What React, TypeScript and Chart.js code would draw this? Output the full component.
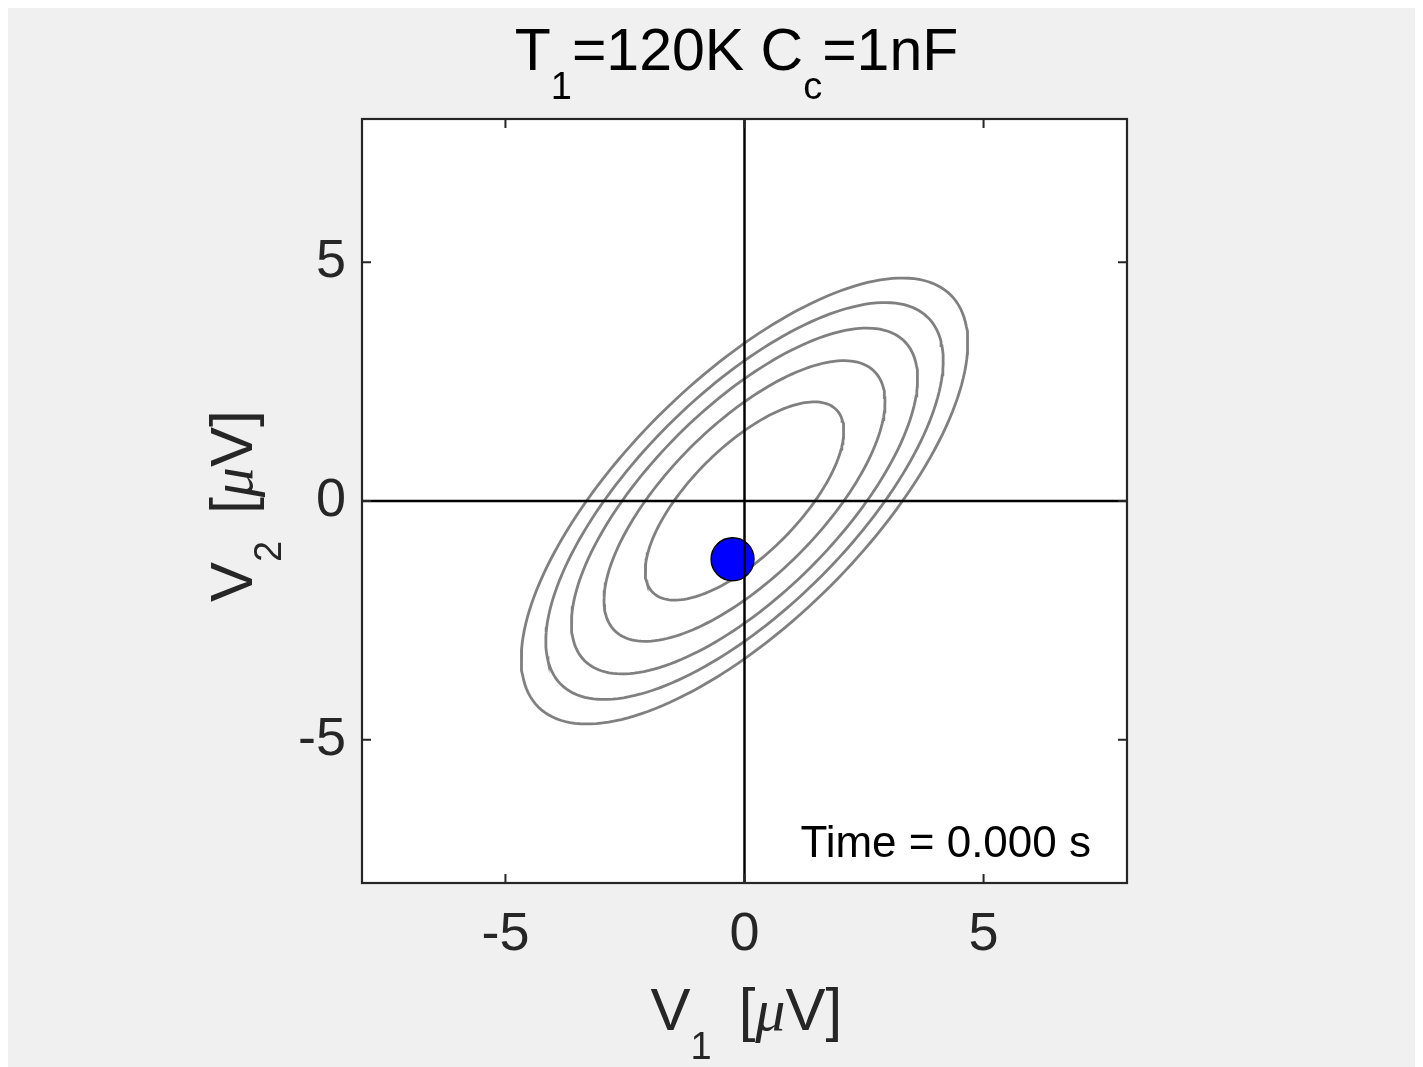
import { useEffect, useRef } from "react";
import { Chart, registerables } from "chart.js";

Chart.register(...registerables);

// Axis limits and tick positions (μV)
const xRange = [-8, 8];
const yRange = [-8, 8];
const xTickValues = [-5, 0, 5];
const yTickValues = [-5, 0, 5];

// Equal-probability contours of the (V1, V2) distribution: semi-axes in μV
const contourSemiMajor = [2.71, 3.84, 4.73, 5.43, 6.1];
const contourSemiMinor = [1.13, 1.59, 1.96, 2.25, 2.53];
const contourTiltDeg = 45;

// Instantaneous state of the two coupled resistors
const stateV1 = [-0.25];
const stateV2 = [-1.22];
const timeSeconds = 0.0;

// Title parameters
const titleT1 = "120K";
const titleCc = "1nF";

const SANS = "'Liberation Sans', Arial, Helvetica, sans-serif";
const SERIF = "'Liberation Serif', 'Times New Roman', serif";
const MAIN_SIZE = 60;
const SUB_SIZE = 38;
const SUB_DROP = 29;
const TEXT_COLOR = "#262626";

type Part = { text?: string; sub?: boolean; italic?: boolean; gap?: number };

// Outline of one contour ellipse traced from its semi-axes and tilt
function ellipseOutline(a: number, b: number, tiltDeg: number) {
  const th = (tiltDeg * Math.PI) / 180;
  const pts: { x: number; y: number }[] = [];
  for (let k = 0; k <= 360; k += 2) {
    const t = (k * Math.PI) / 180;
    const u = a * Math.cos(t);
    const v = b * Math.sin(t);
    pts.push({ x: u * Math.cos(th) - v * Math.sin(th), y: u * Math.sin(th) + v * Math.cos(th) });
  }
  return pts;
}

function partFont(p: Part, mainSize: number) {
  const size = p.sub ? SUB_SIZE : mainSize;
  return p.italic ? `italic ${size}px ${SERIF}` : `${size}px ${SANS}`;
}

function measureParts(ctx: CanvasRenderingContext2D, parts: Part[], mainSize: number) {
  let w = 0;
  for (const p of parts) {
    if (p.gap) {
      w += p.gap;
      continue;
    }
    ctx.font = partFont(p, mainSize);
    w += ctx.measureText(p.text || "").width;
  }
  return w;
}

// Draws text with TeX-like subscripts starting at (0, 0) on the baseline
function drawParts(ctx: CanvasRenderingContext2D, parts: Part[], mainSize: number) {
  let x = 0;
  ctx.textAlign = "left";
  ctx.textBaseline = "alphabetic";
  for (const p of parts) {
    if (p.gap) {
      x += p.gap;
      continue;
    }
    ctx.font = partFont(p, mainSize);
    ctx.fillText(p.text || "", x, p.sub ? SUB_DROP : 0);
    x += ctx.measureText(p.text || "").width;
  }
}

const titleParts: Part[] = [
  { text: "T" },
  { text: "1", sub: true },
  { text: "=" + titleT1 + " C" },
  { text: "c", sub: true },
  { text: "=" + titleCc },
];
const xLabelParts: Part[] = [
  { text: "V" },
  { text: "1", sub: true },
  { gap: 27 },
  { text: "[" },
  { text: "μ", italic: true },
  { text: "V]" },
];
const yLabelParts: Part[] = [
  { text: "V" },
  { text: "2", sub: true },
  { gap: 27 },
  { text: "[" },
  { text: "μ", italic: true },
  { text: "V]" },
];

const axesFrame = {
  id: "axesFrame",
  beforeDatasetsDraw(chart: any) {
    const { ctx, chartArea: a } = chart;
    ctx.save();
    ctx.fillStyle = "#ffffff";
    ctx.fillRect(a.left, a.top, a.right - a.left, a.bottom - a.top);
    ctx.restore();
  },
  afterDatasetsDraw(chart: any) {
    const { ctx, chartArea: a, scales } = chart;
    const tickLen = 9;
    ctx.save();
    ctx.strokeStyle = TEXT_COLOR;
    ctx.lineWidth = 2;
    ctx.beginPath();
    for (const v of xTickValues) {
      const px = scales.x.getPixelForValue(v);
      ctx.moveTo(px, a.bottom);
      ctx.lineTo(px, a.bottom - tickLen);
      ctx.moveTo(px, a.top);
      ctx.lineTo(px, a.top + tickLen);
    }
    for (const v of yTickValues) {
      const py = scales.y.getPixelForValue(v);
      ctx.moveTo(a.left, py);
      ctx.lineTo(a.left + tickLen, py);
      ctx.moveTo(a.right, py);
      ctx.lineTo(a.right - tickLen, py);
    }
    ctx.stroke();
    ctx.lineWidth = 2.2;
    ctx.strokeRect(a.left, a.top, a.right - a.left, a.bottom - a.top);
    ctx.restore();
  },
  afterDraw(chart: any) {
    const { ctx, chartArea: a } = chart;
    const cx = (a.left + a.right) / 2;
    const cy = (a.top + a.bottom) / 2;
    ctx.save();
    ctx.fillStyle = "#000000";

    // Title
    const titleSize = 59;
    const tw = measureParts(ctx, titleParts, titleSize);
    ctx.save();
    ctx.translate(cx - 8 - tw / 2, a.top - 49);
    drawParts(ctx, titleParts, titleSize);
    ctx.restore();

    // x-axis label
    ctx.fillStyle = TEXT_COLOR;
    ctx.save();
    ctx.translate(cx - 94, a.bottom + 147);
    drawParts(ctx, xLabelParts, MAIN_SIZE);
    ctx.restore();

    // y-axis label, rotated
    ctx.save();
    ctx.translate(a.left - 110, cy + 101);
    ctx.rotate(-Math.PI / 2);
    drawParts(ctx, yLabelParts, MAIN_SIZE);
    ctx.restore();

    // Time stamp
    ctx.fillStyle = "#000000";
    ctx.font = `44px ${SANS}`;
    ctx.textAlign = "right";
    ctx.textBaseline = "alphabetic";
    ctx.fillText(`Time = ${timeSeconds.toFixed(3)} s`, a.right - 36, a.bottom - 26);
    ctx.restore();
  },
};

export default function App() {
  const canvasRef = useRef<HTMLCanvasElement | null>(null);

  useEffect(() => {
    const canvas = canvasRef.current;
    if (!canvas) return;

    const contourSets = contourSemiMajor.map((a, i) => ({
      label: `contour ${i + 1}`,
      data: ellipseOutline(a, contourSemiMinor[i], contourTiltDeg),
      showLine: true,
      borderColor: "#808080",
      borderWidth: 2.8,
      pointRadius: 0,
      tension: 0,
      order: 3,
    }));

    const chart = new Chart(canvas, {
      type: "scatter",
      data: {
        datasets: [
          ...contourSets,
          {
            label: "state",
            data: stateV1.map((v, i) => ({ x: v, y: stateV2[i] })),
            pointRadius: 21.5,
            pointBackgroundColor: "#0000ff",
            pointBorderColor: "#000000",
            pointBorderWidth: 1.3,
            order: 2,
          },
          {
            label: "V2 = 0",
            data: [
              { x: xRange[0], y: 0 },
              { x: xRange[1], y: 0 },
            ],
            showLine: true,
            borderColor: "#000000",
            borderWidth: 2.5,
            pointRadius: 0,
            order: 1,
          },
          {
            label: "V1 = 0",
            data: [
              { x: 0, y: yRange[0] },
              { x: 0, y: yRange[1] },
            ],
            showLine: true,
            borderColor: "#000000",
            borderWidth: 2.5,
            pointRadius: 0,
            order: 1,
          },
        ],
      },
      options: {
        responsive: false,
        animation: false,
        events: [],
        layout: { padding: { left: 0, right: 288, top: 111, bottom: 0 } },
        plugins: {
          legend: { display: false },
          tooltip: { enabled: false },
          title: { display: false },
        },
        scales: {
          x: {
            type: "linear",
            min: xRange[0],
            max: xRange[1],
            grid: { display: false, drawTicks: false },
            border: { display: false },
            afterBuildTicks: (s: any) => {
              s.ticks = xTickValues.map((v) => ({ value: v }));
            },
            afterFit: (s: any) => {
              s.height = 184;
            },
            ticks: {
              autoSkip: false,
              maxRotation: 0,
              padding: 20,
              color: TEXT_COLOR,
              font: { family: SANS, size: 54 },
              callback: (v: any) => String(v),
            },
          },
          y: {
            type: "linear",
            min: yRange[0],
            max: yRange[1],
            grid: { display: false, drawTicks: false },
            border: { display: false },
            afterBuildTicks: (s: any) => {
              s.ticks = yTickValues.map((v) => ({ value: v }));
            },
            afterFit: (s: any) => {
              s.width = 354;
            },
            ticks: {
              autoSkip: false,
              padding: 16,
              color: TEXT_COLOR,
              font: { family: SANS, size: 54 },
              callback: (v: any) => String(v),
            },
          },
        },
      },
      plugins: [axesFrame],
    });

    return () => chart.destroy();
  }, []);

  return (
    <div style={{ width: 1407, height: 1059, background: "#f0f0f0" }}>
      <canvas ref={canvasRef} width={1407} height={1059} style={{ display: "block" }} />
    </div>
  );
}
